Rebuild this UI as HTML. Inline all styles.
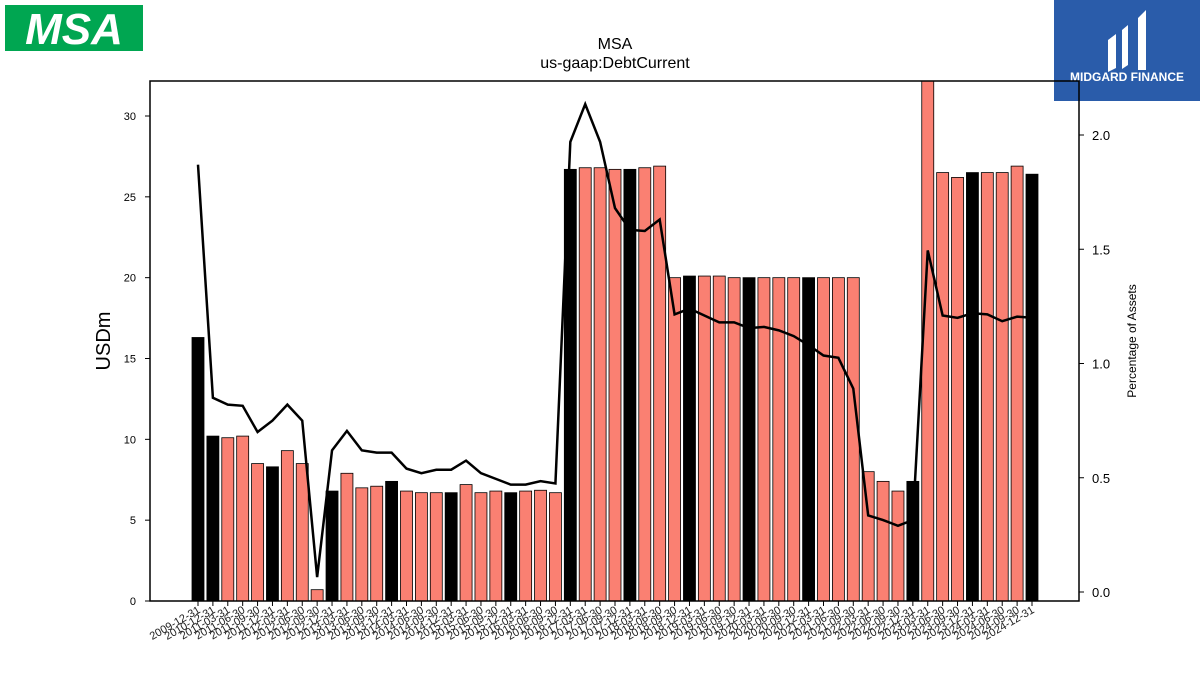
<!DOCTYPE html>
<html><head><meta charset="utf-8"><style>
body{margin:0;background:#fff;width:1200px;height:675px;overflow:hidden;font-family:"Liberation Sans",sans-serif}
svg{display:block}
</style></head><body>
<svg id="chart" width="1200" height="675">
<rect x="5" y="5" width="138" height="46" fill="#00a651"/>
<text x="74" y="44" text-anchor="middle" font-size="44" font-weight="bold" fill="#fff" font-style="italic">MSA</text>
<rect x="1054" y="0" width="146" height="101" fill="#2a5caa"/>
<path d="M1108 40 l8 -6 v34 l-8 4z M1122 30 l6 -5 v40 l-6 4z M1138 18 l8 -8 v60 l-8 0z" fill="#fff"/>
<text x="1127" y="81" text-anchor="middle" font-size="12" font-weight="bold" fill="#fff">MIDGARD FINANCE</text>
<text x="615" y="49" text-anchor="middle" font-size="16">MSA</text>
<text x="615" y="68" text-anchor="middle" font-size="16">us-gaap:DebtCurrent</text>
<defs><clipPath id="pc"><rect x="150" y="81" width="929" height="520"/></clipPath></defs>
<g id="bars" clip-path="url(#pc)"></g>
<g id="line"></g>
<g id="axes"></g>
<rect x="150" y="81" width="929" height="520" fill="none" stroke="#000" stroke-width="1.5"/>
<text transform="translate(110,341) rotate(-90)" text-anchor="middle" font-size="20">USDm</text>
<text transform="translate(1136,341) rotate(-90)" text-anchor="middle" font-size="12">Percentage of Assets</text>
</svg>
<script>
const dates=["2009-12-31","2010-12-31","2011-03-31","2011-06-30","2011-09-30","2011-12-31","2012-03-31","2012-06-30","2012-09-30","2012-12-31","2013-03-31","2013-06-30","2013-09-30","2013-12-31","2014-03-31","2014-06-30","2014-09-30","2014-12-31","2015-03-31","2015-06-30","2015-09-30","2015-12-31","2016-03-31","2016-06-30","2016-09-30","2016-12-31","2017-03-31","2017-06-30","2017-09-30","2017-12-31","2018-03-31","2018-06-30","2018-09-30","2018-12-31","2019-03-31","2019-06-30","2019-09-30","2019-12-31","2020-03-31","2020-06-30","2020-09-30","2020-12-31","2021-03-31","2021-06-30","2021-09-30","2022-03-31","2022-06-30","2022-09-30","2022-12-31","2023-03-31","2023-06-30","2023-09-30","2023-12-31","2024-03-31","2024-06-30","2024-09-30","2024-12-31"];
const debt=[16.3,10.2,10.1,10.2,8.5,8.3,9.3,8.5,0.7,6.8,7.9,7.0,7.1,7.4,6.8,6.7,6.7,6.7,7.2,6.7,6.8,6.7,6.8,6.85,6.7,26.7,26.8,26.8,26.7,26.7,26.8,26.9,20.0,20.1,20.1,20.1,20.0,20.0,20.0,20.0,20.0,20.0,20.0,20.0,20.0,8.0,7.4,6.8,7.4,33.0,26.5,26.2,26.5,26.5,26.5,26.9,26.4];
const pct=[1.87,0.85,0.82,0.815,0.70,0.75,0.82,0.75,0.065,0.62,0.705,0.62,0.61,0.61,0.54,0.52,0.535,0.535,0.575,0.52,0.495,0.47,0.47,0.485,0.475,1.97,2.135,1.97,1.68,1.585,1.58,1.63,1.215,1.24,1.21,1.18,1.18,1.155,1.16,1.145,1.12,1.08,1.035,1.025,0.89,0.335,0.315,0.29,0.315,1.495,1.21,1.20,1.22,1.215,1.185,1.205,1.20];
const yTicks=[0,5,10,15,20,25,30];
const y2Ticks=[0.0,0.5,1.0,1.5,2.0];
const NS="http://www.w3.org/2000/svg";
const x=i=>198+i*(1032-198)/(dates.length-1);
const y=v=>601-v*(485/30);
const y2=v=>592-v*228.5;
const mk=(t,a,p)=>{const e=document.createElementNS(NS,t);for(const k in a)e.setAttribute(k,a[k]);p.appendChild(e);return e;};
const bars=document.getElementById('bars'),line=document.getElementById('line'),axes=document.getElementById('axes');
const bw=12;
debt.forEach((v,i)=>{
 const q=dates[i].slice(5)==="12-31";
 const r=mk('rect',{x:x(i)-bw/2,y:y(v),width:bw,height:y(0)-y(v),fill:q?'#000':'#fa8072',stroke:'#000','stroke-width':0.8},bars);
 
 
 const t=mk('line',{x1:x(i),x2:x(i),y1:601,y2:606,stroke:'#000'},axes);
 const l=mk('text',{transform:`translate(${x(i)+3},${612}) rotate(-30)`,'text-anchor':'end','font-size':11,fill:'#222'},axes);
 l.textContent=dates[i];
 
 
});
const p=mk('polyline',{points:pct.map((v,i)=>x(i)+','+y2(v)).join(' '),fill:'none',stroke:'#000','stroke-width':2.5},line);


yTicks.forEach(v=>{
 mk('line',{x1:145,x2:150,y1:y(v),y2:y(v),stroke:'#000'},axes);
 const t=mk('text',{x:136,y:y(v)+4,'text-anchor':'end','font-size':11},axes);
 t.textContent=v;
 
 
});
y2Ticks.forEach(v=>{
 mk('line',{x1:1079,x2:1084,y1:y2(v),y2:y2(v),stroke:'#000'},axes);
 const t=mk('text',{x:1092,y:y2(v)+5,'font-size':13},axes);
 t.textContent=v.toFixed(1);
 
 
});
</script>
</body></html>
